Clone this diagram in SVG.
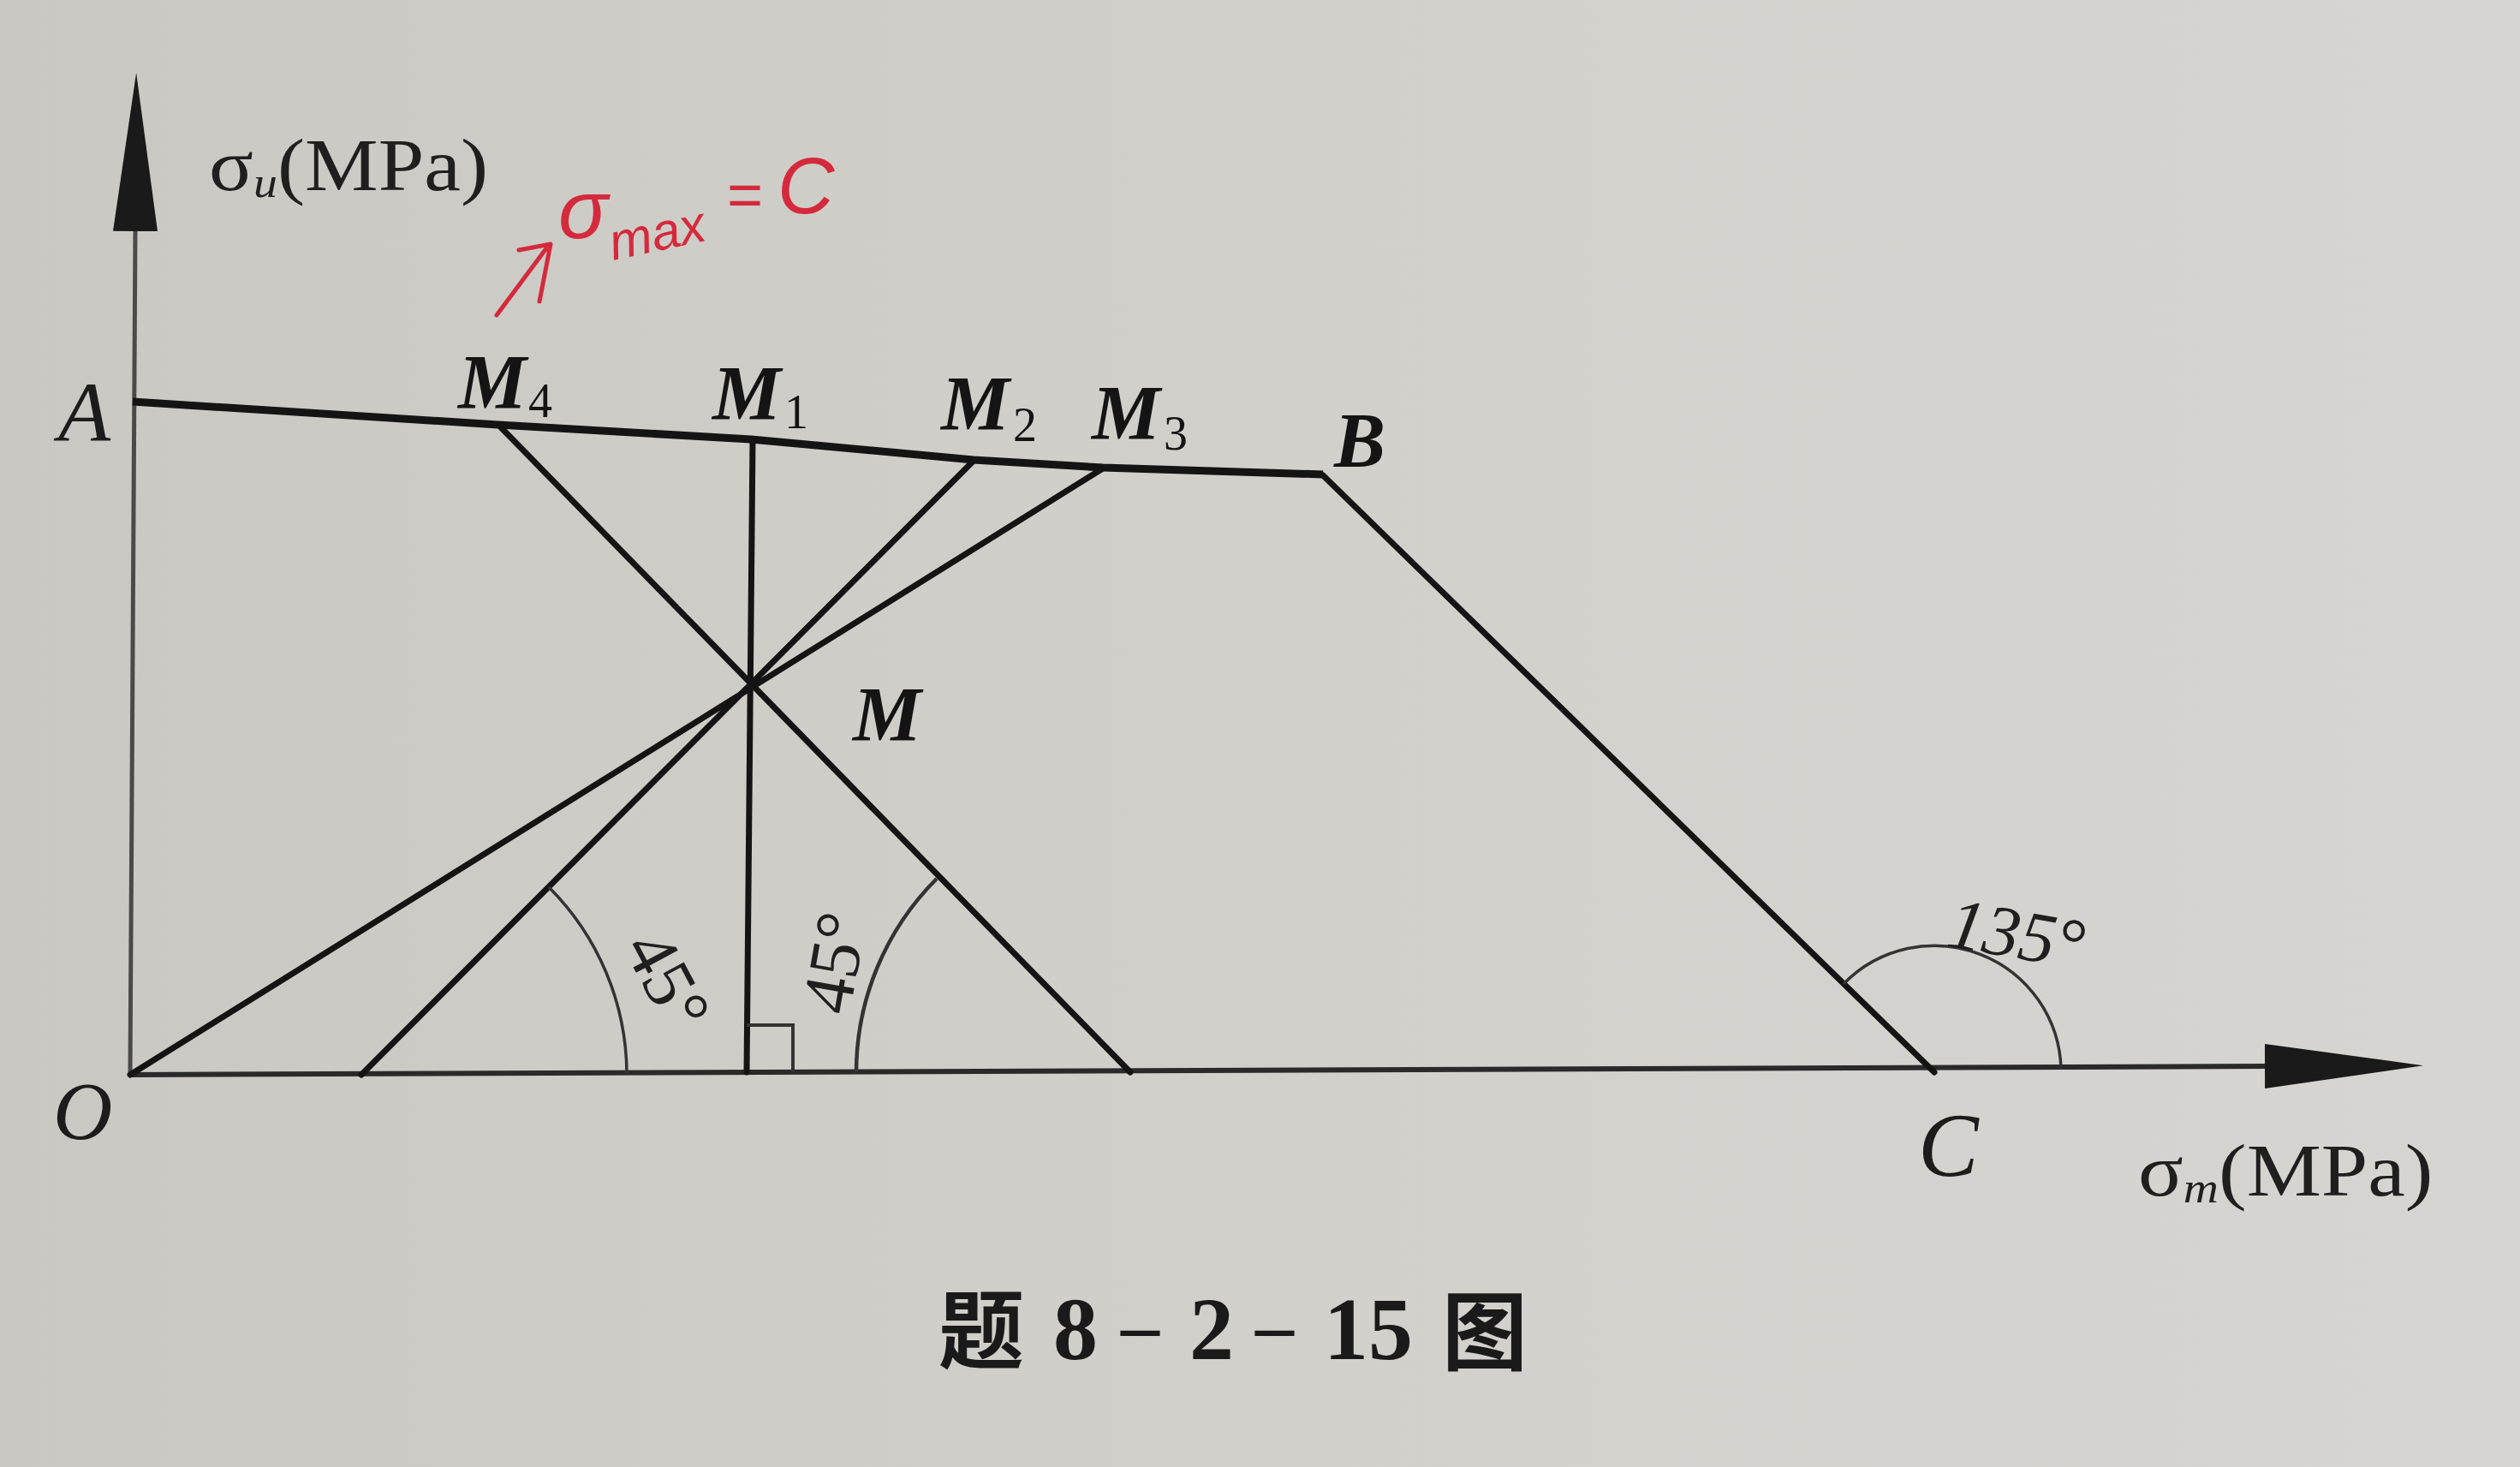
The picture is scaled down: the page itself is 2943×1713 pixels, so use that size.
<svg xmlns="http://www.w3.org/2000/svg" width="2943" height="1713" viewBox="0 0 2943 1713">
<defs>
<linearGradient id="paper" x1="0" y1="0" x2="1" y2="0">
<stop offset="0" stop-color="#cac8c3"/>
<stop offset="0.5" stop-color="#d2d0cb"/>
<stop offset="1" stop-color="#d6d5d1"/>
</linearGradient>
<marker id="arrowHead" markerUnits="userSpaceOnUse" viewBox="0 -26 185 52" markerWidth="185" markerHeight="52" refX="0" refY="0" orient="auto">
<path d="M0,-26 L185,0 L0,26 Z" fill="#1a1a1a"/>
</marker>
<style>
.ax{stroke:#2a2a2a;stroke-width:6;fill:none}
.axy{stroke:#4a4a4a;stroke-width:5;fill:none}
.ln{stroke:#141414;stroke-width:7;fill:none;stroke-linecap:round;stroke-linejoin:round}
.top{stroke:#141414;stroke-width:9;fill:none;stroke-linejoin:round}
.thin{stroke:#333;stroke-width:3.5;fill:none}
.it{font-family:"Liberation Serif","Times New Roman",serif;font-style:italic;fill:#1c1c1c}
.pt{font-family:"Liberation Serif","Times New Roman",serif;font-weight:bold;font-style:italic;font-size:90px;fill:#141414}
.sub{font-style:normal;font-weight:normal;font-size:56px}
.ang{font-family:"Liberation Serif","Times New Roman",serif;font-size:84px;fill:#1f1f1f}
.axl{font-family:"Liberation Serif","Times New Roman",serif;font-size:86px;fill:#1f1f1f}
.red{font-family:"Liberation Sans",Arial,sans-serif;font-style:italic;fill:#d42a3c}
.cap{font-weight:bold;fill:#1a1a1a}
</style>
</defs>
<rect x="0" y="0" width="2943" height="1713" fill="url(#paper)"/>

<g id="axes">
<line class="axy" x1="152" y1="1255" x2="158" y2="270" marker-end="url(#arrowHead)"/>
<line class="ax" x1="152" y1="1255" x2="2645" y2="1245" marker-end="url(#arrowHead)"/>
</g>

<g id="connectors">
<polyline class="top" points="155,469 582,496 877,513 1137,537 1288,546 1545,554"/>
<line class="ln" x1="582" y1="496" x2="1320" y2="1252"/>
<line class="ln" x1="879" y1="513" x2="872" y2="1252"/>
<line class="ln" x1="1137" y1="538" x2="422" y2="1255"/>
<line class="ln" x1="1288" y1="547" x2="152" y2="1255"/>
<line class="ln" x1="1545" y1="555" x2="2259" y2="1252"/>
</g>

<g id="angle-marks">
<path class="thin" d="M641 1036 A310 310 0 0 1 732 1253"/>
<path class="thin" style="stroke-width:4.5" d="M1094 1026 A320 320 0 0 0 1000 1252"/>
<path class="thin" d="M2153 1149 A148 148 0 0 1 2407 1249"/>
<polyline class="thin" style="stroke-width:4" points="872,1197 926,1197 926,1252"/>
</g>

<g id="axis-labels">
<text class="axl" transform="translate(244,222) scale(1.12,1)">σ<tspan font-style="italic" font-size="50" dy="8">u</tspan><tspan dy="-8">(MPa)</tspan></text>
<text class="axl" transform="translate(2497,1396) scale(1.14,1)">σ<tspan font-style="italic" font-size="50" dy="8">m</tspan><tspan dy="-8">(MPa)</tspan></text>
</g>

<g id="node-A"><text class="it" x="68" y="515" font-size="100">A</text></g>
<g id="node-O"><text class="it" x="62" y="1330" font-size="96">O</text></g>
<g id="node-C"><text class="it" x="2240" y="1373" font-size="106">C</text></g>
<g id="node-B"><text class="pt" x="1558" y="545" font-size="94">B</text></g>
<g id="node-M"><text class="pt" x="996" y="865">M</text></g>
<g id="node-M4"><text class="pt" x="535" y="477">M<tspan class="sub" font-style="italic" dx="2" dy="10">4</tspan></text></g>
<g id="node-M1"><text class="pt" x="832" y="490" font-size="96">M<tspan class="sub" dx="4" dy="10" font-size="62">1</tspan></text></g>
<g id="node-M2"><text class="pt" x="1099" y="502">M<tspan class="sub" dx="4" dy="13">2</tspan></text></g>
<g id="node-M3"><text class="pt" x="1275" y="513">M<tspan class="sub" dx="4" dy="12">3</tspan></text></g>

<g id="angle-labels">
<text class="ang" text-anchor="middle" dominant-baseline="central" transform="translate(780,1145) rotate(62)">45°</text>
<text class="ang" text-anchor="middle" dominant-baseline="central" transform="translate(974,1124) rotate(-80)">45°</text>
<text class="ang" font-style="italic" font-size="90" text-anchor="middle" transform="translate(2350,1118) rotate(10)">135°</text>
</g>

<g id="annotation">
<path d="M580 368 L641 286 M606 292 L643 285 L630 352" stroke="#d42a3c" stroke-width="5" fill="none" stroke-linecap="round" stroke-linejoin="round"/>
<text class="red" x="652" y="278" font-size="96">σ</text>
<text class="red" font-size="60" transform="translate(716,304) rotate(-12)">max</text>
<text class="red" x="848" y="252" font-size="72">=</text>
<text class="red" x="908" y="249" font-size="92">C</text>
</g>

<g id="caption" font-size="100">
<text class="cap" y="1590"><tspan x="1096" font-family="'Noto Sans CJK SC',sans-serif">题</tspan><tspan x="1230" y="1587" font-family="'Liberation Serif',serif" font-size="104">8</tspan><tspan x="1309" y="1578" font-family="'Liberation Serif',serif" font-size="90">–</tspan><tspan x="1389" y="1587" font-family="'Liberation Serif',serif" font-size="104">2</tspan><tspan x="1466" y="1578" font-family="'Liberation Serif',serif" font-size="90">–</tspan><tspan x="1546" y="1587" font-family="'Liberation Serif',serif" font-size="104">15</tspan><tspan x="1684" y="1592" font-family="'Noto Sans CJK SC',sans-serif">图</tspan></text>
</g>
</svg>
